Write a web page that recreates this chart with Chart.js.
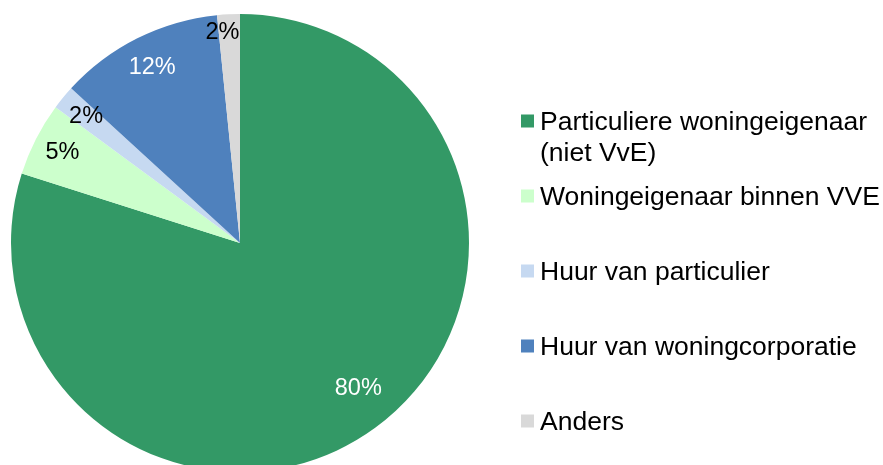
<!DOCTYPE html>
<html>
<head>
<meta charset="utf-8">
<title>Woningbezit</title>
<script src="https://cdn.jsdelivr.net/npm/chart.js@4/dist/chart.umd.min.js"></script>
<style>
    html, body {
        margin: 0;
        padding: 0;
        width: 883px;
        height: 465px;
        overflow: hidden;
        background: #ffffff;
    }
    #wrap {
        position: absolute;
        left: 0;
        top: 0;
        width: 883px;
        height: 472px;
    }
</style>
</head>
<body>
<div id="wrap"><canvas id="pie"></canvas></div>
<script>
// Categories (clockwise from 12 o'clock)
const categories = [
    ['Particuliere woningeigenaar', '(niet VvE)'],
    ['Woningeigenaar binnen VVE'],
    ['Huur van particulier'],
    ['Huur van woningcorporatie'],
    ['Anders']
];
// Shares in percent
const shares = [79.9, 5.2, 1.7, 11.6, 1.6];
const sliceColors = ['#339966', '#ccffcc', '#c6d9f1', '#4f81bd', '#d9d9d9'];
const labelColors = ['#ffffff', '#000000', '#000000', '#ffffff', '#000000'];

const FONT = '"Liberation Sans", Arial, Helvetica, sans-serif';

/**
 * Percentage labels inside the slices
 */
const sliceLabels = {
    id: 'sliceLabels',
    afterDatasetsDraw(chart, args, opts) {
        const ctx = chart.ctx;
        const meta = chart.getDatasetMeta(0);
        const data = chart.data.datasets[0].data;
        const total = data.reduce((a, b) => a + b, 0);
        ctx.save();
        ctx.font = '23.5px ' + FONT;
        ctx.textAlign = 'center';
        ctx.textBaseline = 'middle';
        meta.data.forEach((arc, i) => {
            const p = arc.getProps(['x', 'y', 'startAngle', 'endAngle', 'outerRadius'], true);
            const mid = (p.startAngle + p.endAngle) / 2 + (opts.angleShift[i] || 0);
            const r = p.outerRadius * opts.radius[i];
            const x = p.x + Math.cos(mid) * r + (opts.dx[i] || 0);
            const y = p.y + Math.sin(mid) * r;
            ctx.fillStyle = labelColors[i];
            ctx.fillText(Math.round(data[i] / total * 100) + '%', x, y);
        });
        ctx.restore();
    }
};

/**
 * Legend on the right, drawn on the canvas
 */
const sideLegend = {
    id: 'sideLegend',
    afterDraw(chart, args, opts) {
        const ctx = chart.ctx;
        ctx.save();
        ctx.font = '26.5px ' + FONT;
        ctx.textAlign = 'left';
        ctx.textBaseline = 'alphabetic';
        chart.data.labels.forEach((lines, i) => {
            const base = opts.top + i * opts.step;
            ctx.fillStyle = sliceColors[i];
            ctx.fillRect(opts.left, base - 15, 13, 13);
            ctx.fillStyle = '#000000';
            lines.forEach((line, j) => {
                ctx.fillText(line, opts.left + 19, base + j * opts.lineHeight);
            });
        });
        ctx.restore();
    }
};

new Chart(document.getElementById('pie'), {
    type: 'pie',
    data: {
        labels: categories,
        datasets: [{
            data: shares,
            backgroundColor: sliceColors,
            borderWidth: 0
        }]
    },
    options: {
        responsive: true,
        maintainAspectRatio: false,
        animation: false,
        layout: {
            padding: { left: 11, top: 14, right: 414, bottom: 0 }
        },
        plugins: {
            legend: { display: false },
            tooltip: { enabled: false },
            sliceLabels: {
                radius: [0.82, 0.87, 0.87, 0.855, 0.92],
                angleShift: [-0.05, 0, 0, 0, 0],
                dx: [0, 0, 0, 0, -7]
            },
            sideLegend: {
                left: 521,
                top: 129.5,
                step: 75,
                lineHeight: 31
            }
        }
    },
    plugins: [sliceLabels, sideLegend]
});
</script>
</body>
</html>
